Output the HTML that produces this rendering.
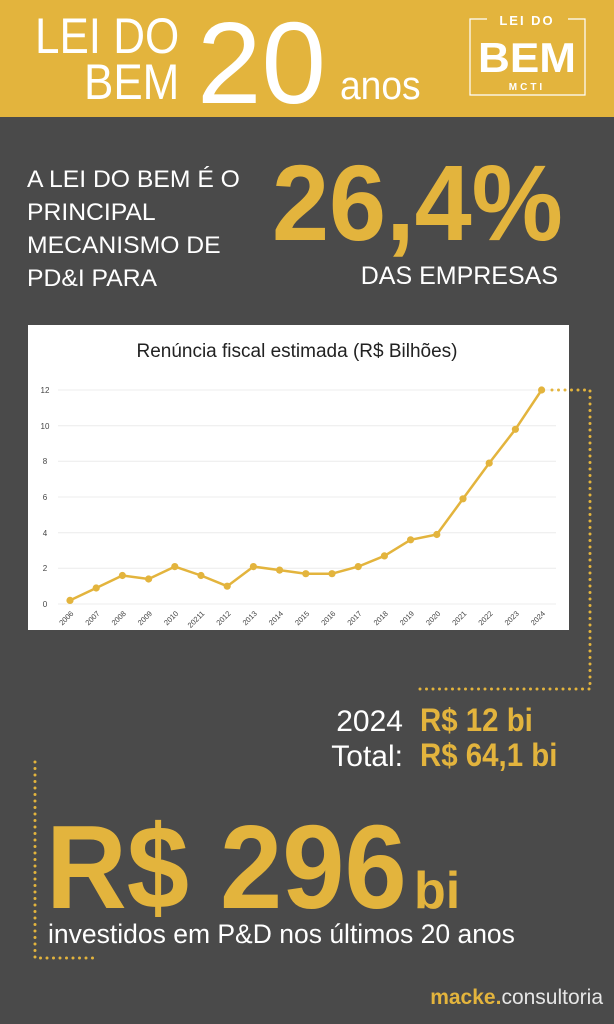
<!DOCTYPE html>
<html><head><meta charset="utf-8"><style>
html,body{margin:0;padding:0}
body{width:614px;height:1024px;background:#4a4a4a;position:relative;overflow:hidden;font-family:"Liberation Sans",sans-serif}
</style></head><body>
<div style="position:absolute;left:0;top:0;width:614px;height:117px;background:#e3b43d"></div>
<svg width="614" height="1024" style="position:absolute;left:0;top:0" xmlns="http://www.w3.org/2000/svg" font-family="Liberation Sans, sans-serif">
<text x="35" y="53" font-size="50" fill="#fff" transform="translate(35 0) scale(0.88 1) translate(-35 0)">LEI DO</text>
<text x="84" y="99" font-size="50" fill="#fff" transform="translate(84 0) scale(0.88 1) translate(-84 0)">BEM</text>
<text x="197" y="103" font-size="116" fill="#fff">20</text>
<text x="340" y="99" font-size="40" fill="#fff" transform="translate(340 0) scale(0.93 1) translate(-340 0)">anos</text>
<g fill="none" stroke="#fff" stroke-width="1.2">
<path d="M487 19 H470 V95 H585 V19 H568"/>
</g>
<text x="527" y="25" font-size="13" font-weight="bold" fill="#fff" text-anchor="middle" letter-spacing="2">LEI DO</text>
<text x="527" y="72" font-size="42" font-weight="bold" fill="#fff" text-anchor="middle" transform="translate(527 0) scale(1.05 1) translate(-527 0)">BEM</text>
<text x="527" y="90" font-size="10" font-weight="bold" fill="#fff" text-anchor="middle" letter-spacing="3">MCTI</text>
<g fill="#fff" font-size="24" transform="translate(27 0) scale(1.03 1) translate(-27 0)">
<text x="27" y="187">A LEI DO BEM É O</text>
<text x="27" y="220">PRINCIPAL</text>
<text x="27" y="253">MECANISMO DE</text>
<text x="27" y="286">PD&amp;I PARA</text>
</g>
<text x="272" y="240" font-size="108" font-weight="bold" fill="#e3b43d" transform="translate(272 0) scale(0.95 1) translate(-272 0)">26,4%</text>
<text x="558" y="284" font-size="25" fill="#fff" text-anchor="end">DAS EMPRESAS</text>
<rect x="28" y="325" width="541" height="305" fill="#fff"/>
<text x="297" y="357" font-size="19" fill="#222" text-anchor="middle">Renúncia fiscal estimada (R$ Bilhões)</text>
<g stroke="#ececec" stroke-width="1">
<line x1="58" x2="556" y1="604" y2="604"/><line x1="58" x2="556" y1="568.3" y2="568.3"/>
<line x1="58" x2="556" y1="532.7" y2="532.7"/><line x1="58" x2="556" y1="497" y2="497"/>
<line x1="58" x2="556" y1="461.3" y2="461.3"/><line x1="58" x2="556" y1="425.7" y2="425.7"/>
<line x1="58" x2="556" y1="390" y2="390"/>
</g>
<g font-size="8" fill="#444" text-anchor="middle">
<text x="45" y="607">0</text><text x="45" y="571">2</text><text x="45" y="536">4</text><text x="45" y="500">6</text><text x="45" y="464">8</text><text x="45" y="429">10</text><text x="45" y="393">12</text>
</g>
<g font-size="7.5" fill="#444" text-anchor="end" id="xl"></g>
<polyline id="ln" fill="none" stroke="#e3b43d" stroke-width="2.5" stroke-linejoin="round"/>
<g id="dots" fill="#e3b43d"></g>
<g fill="none" stroke="#e3b43d" stroke-width="3" stroke-linecap="round" stroke-dasharray="0 6.5">
<path d="M552 390 H590 V689 H419"/>
<path d="M35 762 V958 H98"/>
</g>
<text x="403" y="731" font-size="30" fill="#fff" text-anchor="end">2024</text>
<text x="420" y="731" font-size="32" font-weight="bold" fill="#e3b43d" transform="translate(420 0) scale(0.92 1) translate(-420 0)">R$ 12 bi</text>
<text x="403" y="766" font-size="30" fill="#fff" text-anchor="end">Total:</text>
<text x="420" y="766" font-size="32" font-weight="bold" fill="#e3b43d" transform="translate(420 0) scale(0.92 1) translate(-420 0)">R$ 64,1 bi</text>
<text x="46" y="908" font-size="119" font-weight="bold" fill="#e3b43d" transform="translate(46 0) scale(0.94 1) translate(-46 0)">R$ 296</text>
<text x="414" y="908" font-size="52" font-weight="bold" fill="#e3b43d">bi</text>
<text x="48" y="943" font-size="26.5" fill="#fff">investidos em P&amp;D nos últimos 20 anos</text>
<text x="603" y="1004" font-size="21" fill="#e6e6e6" text-anchor="end"><tspan fill="#e3b43d" font-weight="bold">macke.</tspan>consultoria</text>
</svg>
<script>
var v=[0.2,0.9,1.6,1.4,2.1,1.6,1.0,2.1,1.9,1.7,1.7,2.1,2.7,3.6,3.9,5.9,7.9,9.8,12];
var lab=["2006","2007","2008","2009","2010","20211","2012","2013","2014","2015","2016","2017","2018","2019","2020","2021","2022","2023","2024"];
var pts=[],d="",xl="";
for(var i=0;i<v.length;i++){var x=70+i*26.2,y=604-v[i]*17.83;pts.push(x.toFixed(1)+","+y.toFixed(1));
d+='<circle cx="'+x.toFixed(1)+'" cy="'+y.toFixed(1)+'" r="3.6"/>';
xl+='<text transform="translate('+(x+4).toFixed(1)+' 614) rotate(-45)">'+lab[i]+'</text>';}
document.getElementById('ln').setAttribute('points',pts.join(' '));
document.getElementById('dots').innerHTML=d;
document.getElementById('xl').innerHTML=xl;
</script>
</body></html>
